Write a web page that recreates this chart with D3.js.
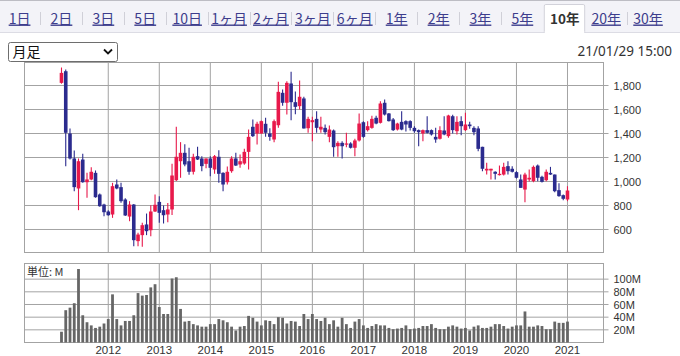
<!DOCTYPE html>
<html><head><meta charset="utf-8">
<script src="https://cdn.jsdelivr.net/npm/d3@7"></script>
<style>body{margin:0;background:#fff;}svg{display:block;}</style>
</head><body><svg id="c" width="680" height="356"></svg>
<script>
// ---------- data ----------
const tabs = ["1日","2日","3日","5日","10日","1ヶ月","2ヶ月","3ヶ月","6ヶ月","1年","2年","3年","5年","10年","20年","30年"];
const selectedTab = "10年";
const periodLabel = "月足";
const timestamp = "21/01/29 15:00";
const startMonth = "2011-02"; // first monthly candle
const open  = [1822,1919,1400,1192,942,1183,994,1017,1072,892,808,750,725,975,953,850,708,808,503,553,642,594,750,830,761,725,767,1011,1169,1239,1169,1081,1211,1192,1147,1192,1100,1206,1072,994,1086,1192,1142,1150,1247,1456,1400,1400,1481,1400,1350,1469,1739,1656,1817,1661,1628,1692,1444,1494,1522,1433,1447,1372,1425,1294,1322,1308,1317,1281,1342,1494,1428,1447,1531,1489,1656,1567,1517,1433,1497,1503,1503,1447,1428,1400,1428,1428,1372,1356,1425,1378,1544,1419,1503,1428,1475,1447,1442,1289,1092,1092,1081,1053,1058,1128,1106,1078,1017,933,1017,1003,1133,1039,1011,1072,1058,928,886,850];
const high  = [1950,1933,1442,1258,1192,1231,1072,1119,1092,900,815,760,989,1017,989,860,836,812,572,656,733,803,892,878,800,820,1147,1456,1328,1311,1281,1231,1289,1211,1192,1211,1220,1261,1078,1125,1211,1239,1225,1272,1433,1517,1497,1508,1531,1444,1517,1831,1767,1836,1914,1750,1842,1706,1539,1539,1586,1539,1475,1467,1433,1336,1336,1406,1328,1356,1567,1503,1503,1547,1547,1669,1683,1570,1530,1489,1586,1511,1511,1461,1433,1433,1544,1433,1447,1461,1544,1556,1556,1544,1544,1572,1497,1461,1461,1289,1156,1106,1086,1133,1156,1169,1128,1086,1058,1072,1100,1133,1142,1047,1100,1122,1058,986,892,961];
const low   = [1815,1128,1183,919,761,990,864,1010,865,790,711,715,697,935,822,712,669,461,461,456,553,544,745,656,650,661,720,1005,1031,1128,1056,1058,1180,1086,1111,1044,1064,989,919,975,1072,1130,1114,1140,1100,1370,1308,1397,1372,1339,1328,1447,1631,1558,1511,1560,1600,1442,1406,1336,1406,1406,1392,1328,1206,1206,1192,1286,1275,1211,1333,1365,1417,1440,1478,1483,1550,1500,1420,1425,1428,1417,1425,1406,1294,1336,1400,1383,1322,1350,1385,1364,1400,1392,1386,1420,1439,1386,1253,1086,1058,1017,1017,1050,1050,1058,1075,1025,947,828,1000,994,1003,992,1003,1055,911,872,844,836];
const close = [1905,1406,1192,953,1169,994,1017,1081,869,794,744,719,961,942,836,717,808,511,558,636,586,750,806,739,719,767,1050,1206,1239,1142,1081,1206,1183,1128,1192,1114,1211,1064,975,1081,1192,1133,1169,1247,1372,1378,1481,1503,1406,1372,1503,1747,1656,1822,1661,1622,1706,1442,1522,1511,1447,1456,1411,1433,1286,1322,1294,1317,1281,1342,1483,1372,1461,1522,1483,1650,1558,1503,1428,1483,1433,1475,1447,1419,1411,1428,1406,1392,1350,1428,1392,1550,1428,1497,1461,1475,1461,1411,1272,1106,1106,1106,1064,1064,1122,1086,1081,1031,947,1058,1031,1122,1031,997,1081,1058,919,878,856,925];
const volume = [17,51,55,62,116,43,32,27,23,25,30,37,76,37,27,34,34,43,78,74,75,87,92,56,45,45,101,103,53,33,34,29,27,25,25,29,29,37,35,32,25,19,25,26,42,39,33,27,35,34,29,40,39,30,34,33,26,45,37,45,37,34,39,29,35,25,39,29,23,33,37,27,23,26,29,27,27,23,21,22,23,27,21,22,23,26,26,29,23,21,21,25,27,25,22,23,19,25,27,23,23,25,29,29,26,22,25,27,27,49,25,25,27,26,21,21,33,31,31,33];
const yearLabels = ["2012","2013","2014","2015","2016","2017","2018","2019","2020","2021"];
const priceTicks = [600,800,1000,1200,1400,1600,1800];
const volumeTicks = [20,40,60,80,100];
const volumeUnit = "単位: M";

// ---------- drawing ----------
const svg = d3.select("#c");
const LAT = "'Liberation Sans',Arial,sans-serif";
const CJK = "'Noto Sans CJK JP','Noto Sans',sans-serif";
const UP = "#e8194b", DOWN = "#2b2b8e", GRID = "#a3a3a3", TXT = "#333";

// tab bar
svg.append("rect").attr("x",0).attr("y",0).attr("width",680).attr("height",32.5).attr("fill","#f3f3f8");
svg.append("line").attr("x1",0).attr("x2",680).attr("y1",0.5).attr("y2",0.5).attr("stroke","#bdbdc4");
svg.append("line").attr("x1",0).attr("x2",680).attr("y1",32.5).attr("y2",32.5).attr("stroke","#dcdce4");
const tabX = d3.scaleBand().domain(tabs).range([-1.9, -1.9 + 41.9*tabs.length]);
const selX = tabX(selectedTab);
svg.append("path")
  .attr("d",`M${selX+1.5},33 L${selX+1.5},6 Q${selX+1.5},4.5 ${selX+3},4.5 L${selX+tabX.bandwidth()-1.5},4.5 Q${selX+tabX.bandwidth()},4.5 ${selX+tabX.bandwidth()},6 L${selX+tabX.bandwidth()},33`)
  .attr("fill","#fff").attr("stroke","#d2d2da");
svg.append("rect").attr("x",selX+2).attr("y",31).attr("width",tabX.bandwidth()-2.5).attr("height",3).attr("fill","#fff");
tabs.forEach((t,i)=>{
  if(i < tabs.length-1 && t!==selectedTab && tabs[i+1]!==selectedTab){
    const sx = Math.round(tabX(t)+tabX.bandwidth())+0.5;
    svg.append("line").attr("x1",sx).attr("x2",sx).attr("y1",12).attr("y2",25).attr("stroke","#d0d0d8");
  }
  const sel = t===selectedTab;
  svg.append("text").attr("x",tabX(t)+tabX.bandwidth()/2+ (sel?1:0.5)).attr("y",23.5)
    .attr("text-anchor","middle").attr("font-family",CJK).attr("font-size",sel?13.5:14)
    .attr("font-weight",sel?"bold":"normal").attr("fill",sel?"#333":"#3d3d8c")
    .attr("text-decoration",sel?"none":"underline").text(t);
});

// dropdown
svg.append("rect").attr("x",8.5).attr("y",42.5).attr("width",109).attr("height",19).attr("rx",2)
  .attr("fill","#fff").attr("stroke","#6e6e6e");
svg.append("text").attr("x",12.5).attr("y",57).attr("font-family",CJK).attr("font-size",14).attr("fill","#111").text(periodLabel);
svg.append("path").attr("d","M104,49.5 L108,53.5 L112,49.5").attr("fill","none").attr("stroke","#111").attr("stroke-width",1.8);

// timestamp
svg.append("text").attr("x",672).attr("y",55.5).attr("text-anchor","end").attr("font-family","'Noto Sans',sans-serif")
  .attr("font-size",13.5).attr("fill",TXT).text(timestamp);

// scales
const start = d3.timeParse("%Y-%m")(startMonth);
const idx = d3.range(open.length);
const x = d3.scaleLinear().domain([-8.7, 127.47]).range([24.5, 603.5]);
const yearIdx = yearLabels.map(yl => d3.timeMonth.count(start, new Date(+yl,0,1)));
const y = d3.scaleLinear().domain([408.33, 1991.67]).range([252.5, 62.5]);
const yv = d3.scaleLinear().domain([0, 124.7]).range([342.5, 263.5]);

function panel(top, bottom, yScale, ticks, fmt){
  const g = svg.append("g");
  g.selectAll(".h").data(ticks).join("line")
    .attr("x1",24.5).attr("x2",608.5).attr("y1",d=>yScale(d)).attr("y2",d=>yScale(d))
    .attr("stroke",GRID).attr("stroke-width",1);
  g.selectAll(".v").data(yearIdx).join("line")
    .attr("x1",d=>x(d)).attr("x2",d=>x(d)).attr("y1",top).attr("y2",bottom)
    .attr("stroke",GRID);
  g.append("rect").attr("x",24.5).attr("y",top).attr("width",579).attr("height",bottom-top)
    .attr("fill","none").attr("stroke",GRID);
  const ax = d3.axisRight(yScale).tickValues(ticks).tickSize(0).tickPadding(10).tickFormat(fmt);
  const a = svg.append("g").attr("transform","translate(603.5,0)").call(ax);
  a.select(".domain").remove();
  a.selectAll("text").attr("font-family",LAT).attr("font-size",11).attr("fill",TXT);
  return g;
}
panel(62.5, 252.5, y, priceTicks, d3.format(","));
panel(263.5, 342.5, yv, volumeTicks, d=>d+"M");

// candles
const cg = svg.append("g");
cg.selectAll("line.w").data(idx).join("line")
  .attr("x1",i=>x(i)).attr("x2",i=>x(i)).attr("y1",i=>y(high[i])).attr("y2",i=>y(low[i]))
  .attr("stroke",i=>close[i]>=open[i]?UP:DOWN).attr("stroke-width",1.1);
cg.selectAll("rect.b").data(idx).join("rect")
  .attr("x",i=>x(i)-1.8).attr("width",3.6)
  .attr("y",i=>y(Math.max(open[i],close[i])))
  .attr("height",i=>Math.max(1.2, Math.abs(y(open[i])-y(close[i]))))
  .attr("fill",i=>close[i]>=open[i]?UP:DOWN);

// volume
svg.append("g").selectAll("rect").data(idx).join("rect")
  .attr("x",i=>x(i)-1.4).attr("width",2.8)
  .attr("y",i=>yv(volume[i])).attr("height",i=>yv(0)-yv(volume[i]))
  .attr("fill","#666");

svg.append("text").attr("x",27).attr("y",276).attr("font-family",CJK).attr("font-size",11)
  .attr("fill",TXT).text(volumeUnit);

// x labels
svg.append("g").selectAll("text").data(yearLabels).join("text")
  .attr("x",(d,i)=>x(yearIdx[i])).attr("y",354).attr("text-anchor","middle")
  .attr("font-family",LAT).attr("font-size",11.5).attr("fill",TXT).text(d=>d);
</script></body></html>
